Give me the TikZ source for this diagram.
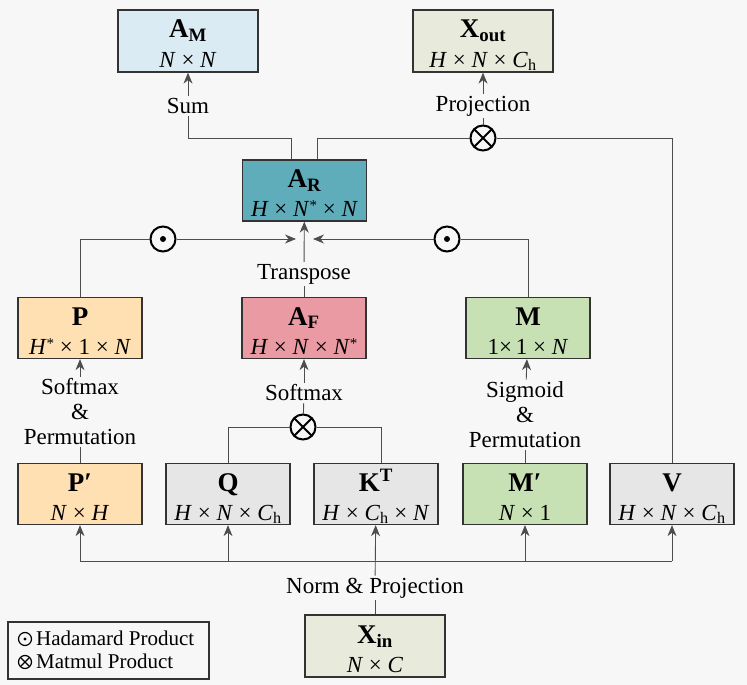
\documentclass[tikz,border=0pt]{standalone}
\usepackage{fontspec}
\setmainfont{Liberation Serif}
\usepackage{xcolor}
\definecolor{canvas}{HTML}{F7F7F7}
\definecolor{edge}{HTML}{333333}
\definecolor{wire}{HTML}{4D4D4D}
\definecolor{skyfill}{HTML}{DAEBF3}
\definecolor{olivefill}{HTML}{E8EADC}
\definecolor{tealfill}{HTML}{5FADBB}
\definecolor{peachfill}{HTML}{FFE0B2}
\definecolor{rosefill}{HTML}{E99AA3}
\definecolor{mintfill}{HTML}{C7E1B5}
\definecolor{greyfill}{HTML}{E6E6E6}
\usetikzlibrary{arrows.meta,calc}
\newcommand{\tens}[2]{{\fontsize{27}{29}\selectfont\bfseries\rule{0pt}{27pt}#1}\\#2\rule[-4pt]{0pt}{4pt}}
\newcommand{\Ch}{\textit{C}\textsubscript{h}}
\newcommand{\st}{\raisebox{6pt}{\fontsize{15}{15}\selectfont*}}
\tikzset{
  tensor/.style={draw=edge, line width=1.3pt, minimum width=124pt, minimum height=61pt,
    inner sep=0pt, align=center, font=\fontsize{23}{29}\selectfont},
  widetensor/.style={tensor, minimum width=140pt, minimum height=62pt},
  link/.style={draw=wire, line width=0.9pt},
  arrow/.style={link, -{Stealth[length=11pt, width=9pt, inset=3.5pt]}},
  lbl/.style={font=\fontsize{23}{25}\selectfont, align=center, inner sep=2pt},
  opsym/.style={circle, draw=black, line width=2pt, minimum size=25pt, inner sep=0pt, fill=canvas},
  keysym/.style={opsym, line width=1.2pt, minimum size=13pt},
  hadamard/.style={path picture={\fill[black] (path picture bounding box.center) circle (#1);}},
  hadamard/.default=3pt,
  matmul/.style={path picture={\draw[black, line width=#1]
      (path picture bounding box.north west) -- (path picture bounding box.south east)
      (path picture bounding box.north east) -- (path picture bounding box.south west);}},
  matmul/.default=2pt,
}

\begin{document}
\begin{tikzpicture}[x=1pt, y=-1pt]
  \fill[canvas] (0,0) rectangle (747,685);
  \useasboundingbox (0,0) rectangle (747,685);

  % tensors
  \node[widetensor, fill=skyfill] (AM) at (188,41) {\tens{A\textsubscript{M}}{\textit{N} × \textit{N}}};
  \node[widetensor, fill=olivefill] (Xout) at (483,41) {\tens{X\textsubscript{out}}{\textit{H} × \textit{N} × \Ch}};
  \node[tensor, fill=tealfill] (AR) at (304.5,190.5) {\tens{A\textsubscript{R}}{\textit{H} × \textit{N}\st{} × \textit{N}}};
  \node[tensor, fill=peachfill] (P) at (80,328) {\tens{P}{\textit{H}\st{} × 1 × \textit{N}}};
  \node[tensor, fill=rosefill] (AF) at (304,328) {\tens{A\textsubscript{F}}{\textit{H} × \textit{N} × \textit{N}\st}};
  \node[tensor, fill=mintfill] (M) at (528,328) {\tens{M}{1×\,1 × \textit{N}}};
  \node[tensor, fill=peachfill] (Pp) at (80,494) {\tens{P′}{\textit{N} × \textit{H}}};
  \node[tensor, fill=greyfill] (Q) at (228,494) {\tens{Q}{\textit{H} × \textit{N} × \Ch}};
  \node[tensor, fill=greyfill] (KT) at (376,494) {\tens{K\textsuperscript{T}}{\textit{H} × \Ch{} × \textit{N}}};
  \node[tensor, fill=mintfill] (Mp) at (525,494) {\tens{M′}{\textit{N} × 1}};
  \node[tensor, fill=greyfill] (V) at (672,494) {\tens{V}{\textit{H} × \textit{N} × \Ch}};
  \node[widetensor, fill=olivefill] (Xin) at (375,646) {\tens{X\textsubscript{in}}{\textit{N} × \textit{C}}};

  % operators and labels
  \node[lbl] (sum) at (188,106) {Sum};
  \node[lbl] (proj) at (483,106) {Projection};
  \node[opsym, matmul] (mmout) at (483,138) {};
  \node[opsym, hadamard] (hadP) at (163,239) {};
  \node[opsym, hadamard] (hadM) at (447,239) {};
  \coordinate (tipL) at (296,239);
  \coordinate (tipR) at (313,239);
  \node[lbl] (transp) at (304,274) {Transpose};
  \node[lbl] (softP) at (80,412) {Softmax\\\&\\Permutation};
  \node[lbl] (softA) at (304,393) {Softmax};
  \node[opsym, matmul] (mmqk) at (303,427) {};
  \node[lbl] (sigM) at (525,415) {Sigmoid\\\&\\Permutation};
  \node[lbl] (norm) at (375,588) {Norm \& Projection};
  \coordinate (bus) at (0,561);
  \coordinate (top) at (0,138);

  % top branch
  \draw[link] ([xshift=-13pt]AR.north) |- (sum.south |- top) -- (sum.south);
  \draw[arrow] (sum) -- (AM);
  \draw[link] ([xshift=13pt]AR.north) |- (mmout.west);
  \draw[link] (V.north) |- (mmout.east);
  \draw[link] (mmout) -- (proj);
  \draw[arrow] (proj) -- (Xout);

  % middle
  \draw[link] (P.north) |- (hadP.west);
  \draw[arrow] (hadP.east) -- (tipL);
  \draw[link] (M.north) |- (hadM.east);
  \draw[arrow] (hadM.west) -- (tipR);
  \draw[link] (AF) -- (transp);
  \draw[arrow] (transp) -- (AR);

  \draw[link] (Pp) -- (softP);
  \draw[arrow] (softP) -- (P);
  \draw[link] (Q.north) |- (mmqk.west);
  \draw[link] ([xshift=5pt]KT.north) |- (mmqk.east);
  \draw[link] (mmqk) -- (softA);
  \draw[arrow] (softA) -- (AF);
  \draw[link] (Mp) -- (sigM);
  \draw[arrow] (sigM) -- (M);

  % input bus
  \draw[link] (Xin) -- (norm);
  \draw[arrow] (norm) -- (KT);
  \draw[link] (Pp.south |- bus) -- (V.south |- bus);
  \foreach \t in {Pp,Q,Mp,V}
    \draw[arrow] (\t.south |- bus) -- (\t.south);

  % legend
  \node[draw=edge, line width=1.2pt, minimum width=201pt, minimum height=57pt, inner sep=0pt] (legend) at (108.5,650.5) {};
  \node[keysym, hadamard=1.6pt] (keyH) at (25,639) {};
  \node[keysym, matmul=1.1pt] (keyM) at (25,662) {};
  \node[lbl, font=\fontsize{21}{24}\selectfont, anchor=west] (keyHtxt) at (34,638) {Hadamard Product};
  \node[lbl, font=\fontsize{21}{24}\selectfont, anchor=west] (keyMtxt) at (34,661) {Matmul Product};
\end{tikzpicture}
\end{document}
